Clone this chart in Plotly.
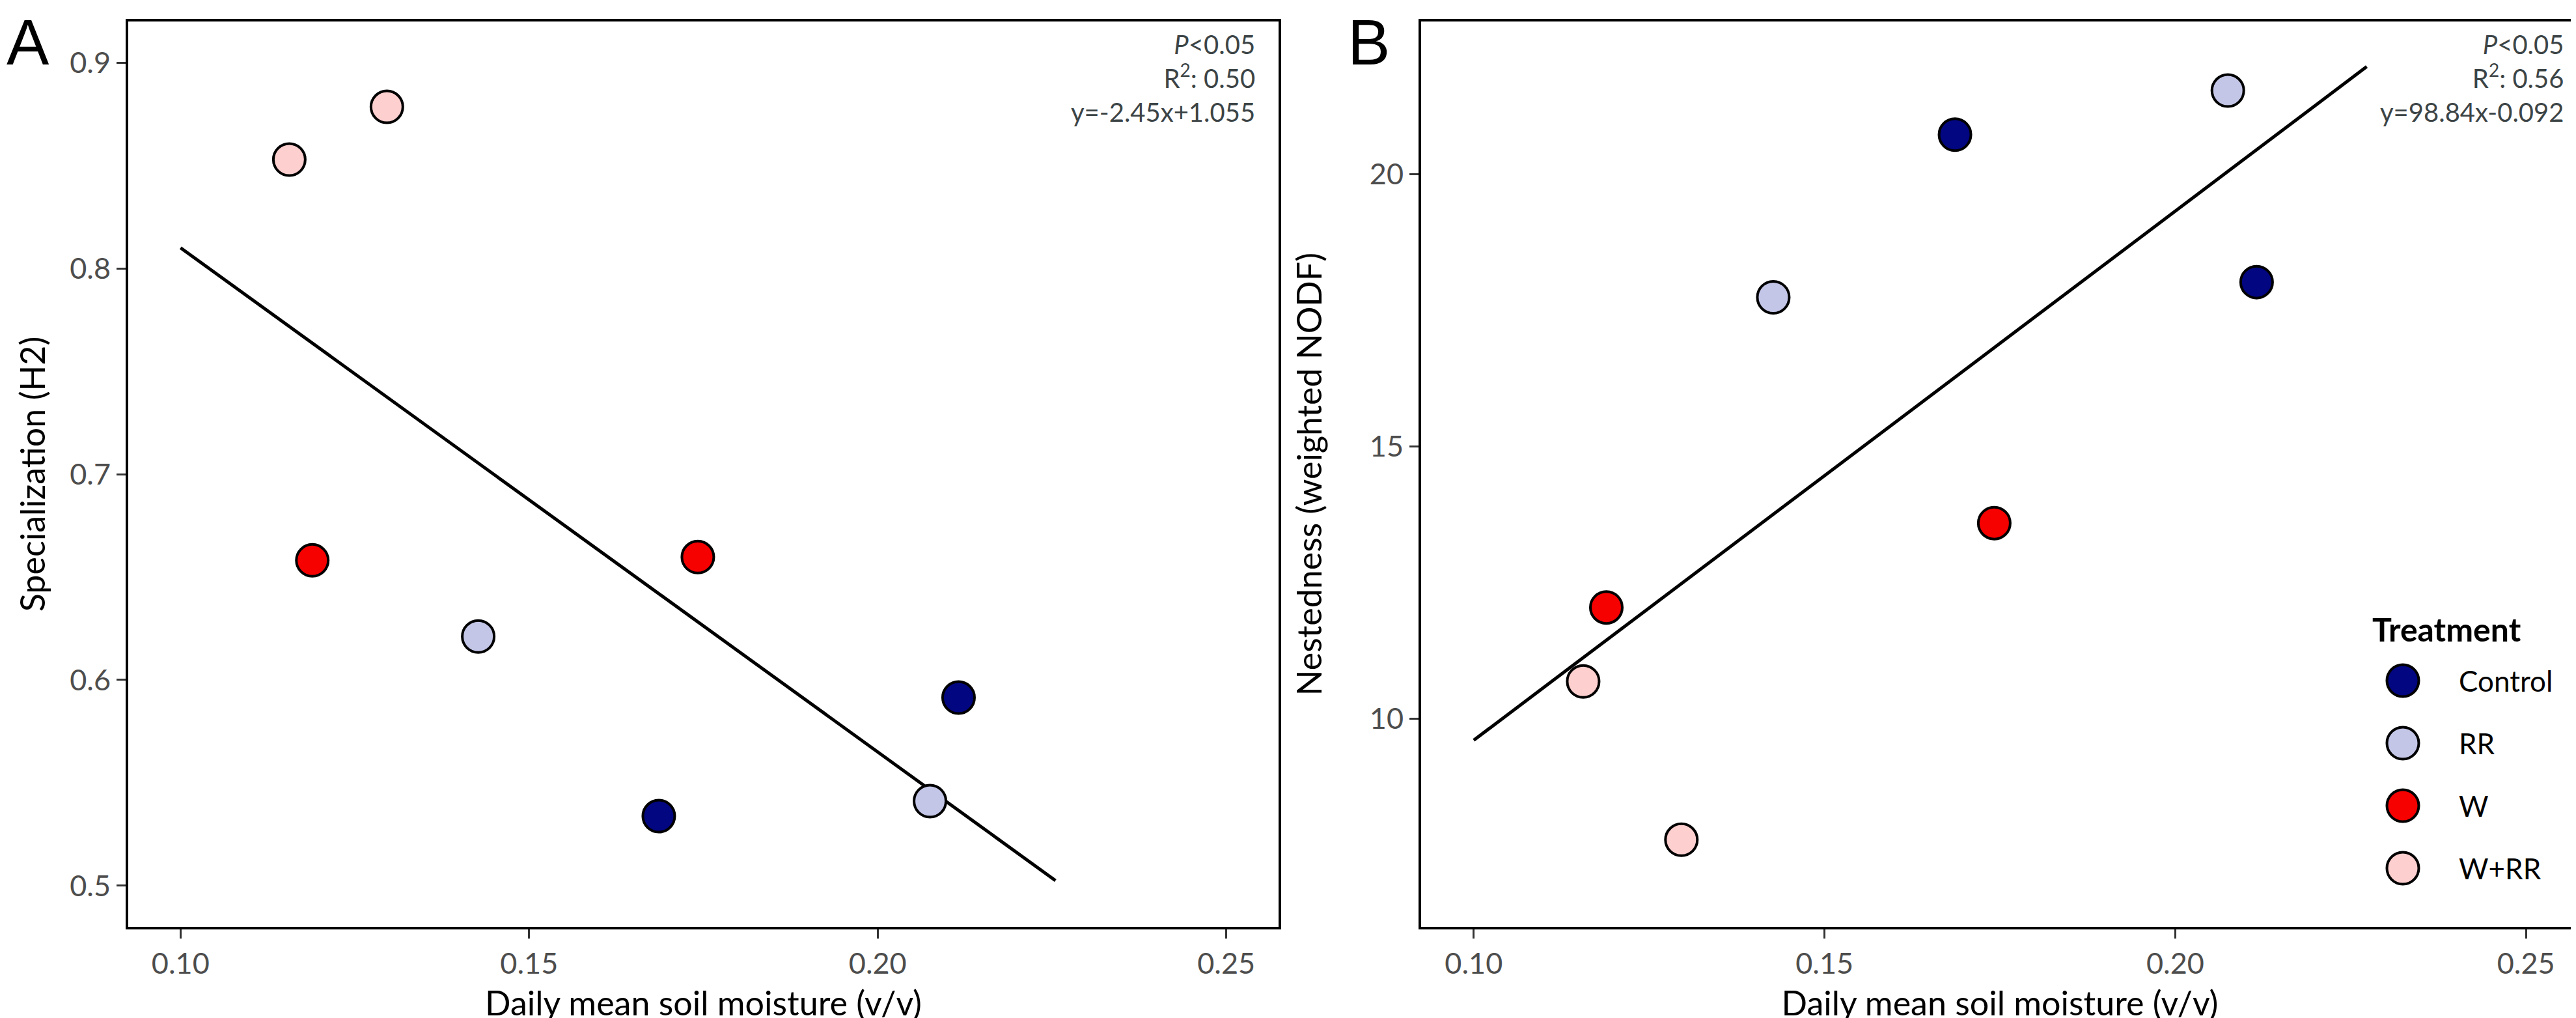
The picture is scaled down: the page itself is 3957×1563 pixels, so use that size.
import plotly.graph_objects as go

# ---------------- data ----------------
treatments = ["Control", "RR", "W", "W+RR"]
colors = ["#020680", "#C3C6E7", "#F60000", "#FDCFCE"]

moisture_control = [0.1686, 0.2116]
moisture_rr = [0.1427, 0.2075]
moisture_w = [0.1189, 0.1742]
moisture_wrr = [0.1156, 0.1296]

h2_control = [0.5338, 0.5914]
h2_rr = [0.6211, 0.5411]
h2_w = [0.6581, 0.6597]
h2_wrr = [0.8529, 0.8785]

nodf_control = [20.73, 18.02]
nodf_rr = [17.74, 21.54]
nodf_w = [12.04, 13.59]
nodf_wrr = [10.68, 7.77]

fit_a_x = [0.10, 0.2255]
fit_a_y = [0.810, 0.5025]
fit_b_x = [0.10, 0.2273]
fit_b_y = [9.60, 21.98]

x_ticks = [0.10, 0.15, 0.20, 0.25]
x_ticktext = ["0.10", "0.15", "0.20", "0.25"]
ya_ticks = [0.5, 0.6, 0.7, 0.8, 0.9]
yb_ticks = [10, 15, 20]

stats_a = "<i>P</i>&lt;0.05<br>R<sup>2</sup>: 0.50<br>y=-2.45x+1.055"
stats_b = "<i>P</i>&lt;0.05<br>R<sup>2</sup>: 0.56<br>y=98.84x-0.092"

moist = [moisture_control, moisture_rr, moisture_w, moisture_wrr]
h2 = [h2_control, h2_rr, h2_w, h2_wrr]
nodf = [nodf_control, nodf_rr, nodf_w, nodf_wrr]

# ---------------- figure ----------------
W, H = 3957, 1563
FONT = "Lato"
TICKCOL = "#4D4D4D"

fig = go.Figure()

fig.add_trace(go.Scatter(x=fit_a_x, y=fit_a_y, mode="lines",
                         line=dict(color="black", width=5),
                         xaxis="x", yaxis="y", showlegend=False, hoverinfo="skip"))
fig.add_trace(go.Scatter(x=fit_b_x, y=fit_b_y, mode="lines",
                         line=dict(color="black", width=5),
                         xaxis="x2", yaxis="y2", showlegend=False, hoverinfo="skip"))

mk = lambda c: dict(color=c, size=49, line=dict(color="black", width=4))
for t, c, xs, ys in zip(treatments, colors, moist, h2):
    fig.add_trace(go.Scatter(x=xs, y=ys, mode="markers", marker=mk(c), name=t,
                             xaxis="x", yaxis="y", showlegend=False))
for t, c, xs, ys in zip(treatments, colors, moist, nodf):
    fig.add_trace(go.Scatter(x=xs, y=ys, mode="markers", marker=mk(c), name=t,
                             xaxis="x2", yaxis="y2", showlegend=False))

# manual legend (categorical axis)
fig.add_trace(go.Scatter(x=[0] * len(treatments), y=treatments, mode="markers",
                         marker=dict(color=colors, size=49, line=dict(color="black", width=4)),
                         xaxis="x3", yaxis="y3", showlegend=False, hoverinfo="skip"))

def px(x):
    return x / W

def py(y):
    return 1 - y / H

axis_common = dict(showline=True, mirror=True, linecolor="black", linewidth=4,
                   ticks="outside", ticklen=14, tickwidth=3, tickcolor="#333333",
                   showgrid=False, zeroline=False,
                   tickfont=dict(family=FONT, size=45, color=TICKCOL))

xdom_a = [px(189), px(1956)]
xdom_b = [px(2175), px(3953)]
ydom = [py(1415), py(25)]

title_font = dict(family=FONT, size=52, color="black")

fig.update_layout(
    width=W, height=H,
    margin=dict(l=0, r=0, t=0, b=0),
    paper_bgcolor="white", plot_bgcolor="white",
    showlegend=False,
    xaxis=dict(domain=xdom_a, range=[0.0925, 0.2575], tickvals=x_ticks, ticktext=x_ticktext,
               title=dict(text="Daily mean soil moisture (v/v)", font=title_font, standoff=20),
               anchor="y", **axis_common),
    yaxis=dict(domain=ydom, range=[0.48, 0.92], tickvals=ya_ticks,
               title=dict(text="Specialization (H2)", font=title_font, standoff=22),
               anchor="x", **axis_common),
    xaxis2=dict(domain=xdom_b, range=[0.0925, 0.2575], tickvals=x_ticks, ticktext=x_ticktext,
                title=dict(text="Daily mean soil moisture (v/v)", font=title_font, standoff=20),
                anchor="y2", **axis_common),
    yaxis2=dict(domain=ydom, range=[6.17, 22.81], tickvals=yb_ticks,
                title=dict(text="Nestedness (weighted NODF)", font=title_font, standoff=58),
                anchor="x2", **axis_common),
    xaxis3=dict(domain=[px(3650), px(3950)], range=[-0.33, 2.67], visible=False,
                anchor="y3", fixedrange=True),
    yaxis3=dict(domain=[py(1373), py(989)], range=[3.5, -0.5], visible=False,
                type="category", categoryorder="array", categoryarray=treatments,
                anchor="x3", fixedrange=True),
)

annotations = []
# panel letters
annotations.append(dict(text="A", xref="paper", yref="paper", x=px(0), y=py(0),
                        xanchor="left", yanchor="top", showarrow=False,
                        font=dict(family="Liberation Sans", size=98, color="black")))
annotations.append(dict(text="B", xref="paper", yref="paper", x=px(2060), y=py(0),
                        xanchor="left", yanchor="top", showarrow=False,
                        font=dict(family="Liberation Sans", size=98, color="black")))
# stats
annotations.append(dict(text=stats_a, xref="paper", yref="paper", x=px(1922), y=py(34),
                        xanchor="right", yanchor="top", align="right", showarrow=False,
                        font=dict(family=FONT, size=40, color="#3C4446")))
annotations.append(dict(text=stats_b, xref="paper", yref="paper", x=px(3932), y=py(34),
                        xanchor="right", yanchor="top", align="right", showarrow=False,
                        font=dict(family=FONT, size=40, color="#3C4446")))
# legend title and labels
annotations.append(dict(text="<b>Treatment</b>", xref="paper", yref="paper", x=px(3634), y=py(958),
                        xanchor="left", yanchor="middle", showarrow=False,
                        font=dict(family=FONT, size=50, color="black")))
for t in treatments:
    annotations.append(dict(text=t, xref="x3", yref="y3", x=0.84, y=t,
                            xanchor="left", yanchor="middle", showarrow=False,
                            font=dict(family=FONT, size=44, color="black")))

fig.update_layout(annotations=annotations)

fig.write_html("out.html")
